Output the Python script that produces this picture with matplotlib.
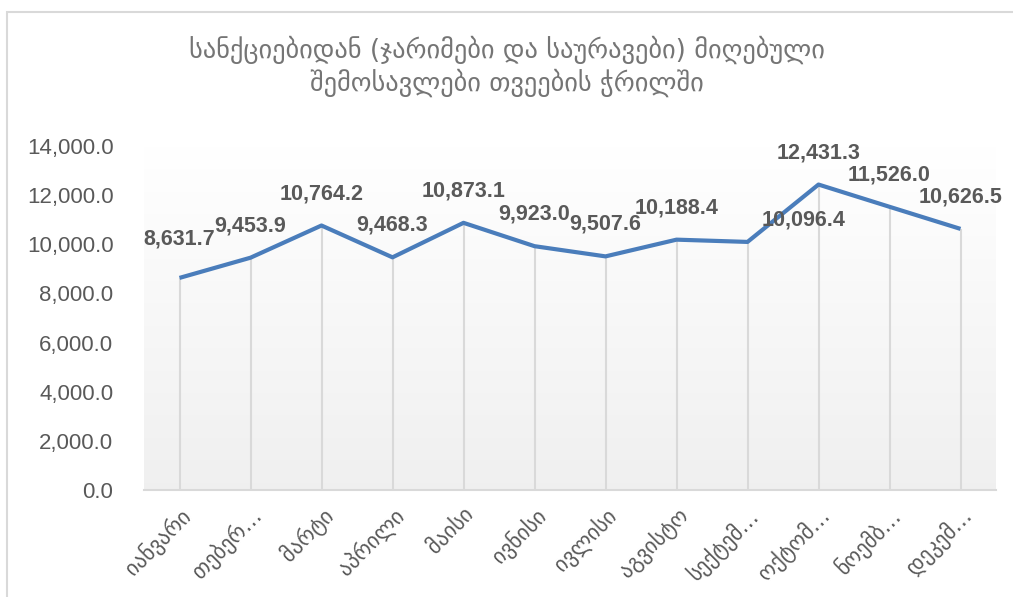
import numpy as np
import matplotlib
matplotlib.use('Agg')
import matplotlib.pyplot as plt
from matplotlib.ticker import FuncFormatter
from matplotlib.patches import Rectangle

# monthly income from sanctions (fines and penalties)
months = ['იანვარი', 'თებერ…', 'მარტი', 'აპრილი', 'მაისი', 'ივნისი',
          'ივლისი', 'აგვისტო', 'სექტემ…', 'ოქტომ…', 'ნოემბ…', 'დეკემ…']
income = [8631.7, 9453.9, 10764.2, 9468.3, 10873.1, 9923.0,
          9507.6, 10188.4, 10096.4, 12431.3, 11526.0, 10626.5]
yticks = [0, 2000, 4000, 6000, 8000, 10000, 12000, 14000]
title = 'სანქციებიდან (ჯარიმები და საურავები) მიღებული\nშემოსავლები თვეების ჭრილში'

W, H = 1013, 597
PX = 0.72  # points per pixel at dpi 100

# label nudges in pixels (dx, dy above point), excel-like placement
nudge = {0: (0, 39), 8: (56, 22)}
default_nudge = (0, 32)

fig = plt.figure(figsize=(W / 100, H / 100), dpi=100)
fig.patch.set_facecolor('white')

# chart border (top and left visible)
fig.patches.append(Rectangle((7 / W, -0.1), 1.2, (H - 12) / H + 0.1, transform=fig.transFigure,
                             fill=False, edgecolor='#d9d9d9', linewidth=1.5))

# axes box: x 144..996, y 146..490
ax = fig.add_axes([144 / W, 1 - 490 / H, (996 - 144) / W, (490 - 146) / H])
ax.set_xlim(-0.5, len(months) - 0.5)
ax.set_ylim(0, 14000)

# light gradient in plot area
grad = np.linspace(1.0, 0.94, 256).reshape(-1, 1)
ax.imshow(np.dstack([grad, grad, grad]), extent=[-0.5, len(months) - 0.5, 0, 14000],
          aspect='auto', zorder=0, origin='upper')

x = np.arange(len(months))
ax.vlines(x, 0, income, color='#d9d9d9', linewidth=1.5, zorder=1)
ax.plot(x, income, color='#4a7dbb', linewidth=3.0, zorder=3, solid_capstyle='butt')

for i, (xi, v) in enumerate(zip(x, income)):
    dx, dy = nudge.get(i, default_nudge)
    ax.annotate('{:,.1f}'.format(v), (xi, v), xytext=(dx * PX, dy * PX), textcoords='offset points',
                ha='center', va='center', fontsize=15.5, fontweight='bold',
                color='#595959', family='Liberation Sans', zorder=4)

for s in ['top', 'right', 'left']:
    ax.spines[s].set_visible(False)
ax.spines['bottom'].set_color('#d9d9d9')
ax.spines['bottom'].set_linewidth(1.5)

ax.set_yticks(yticks)
ax.yaxis.set_major_formatter(FuncFormatter(lambda v, p: '{:,.1f}'.format(v)))
ax.tick_params(axis='y', length=0, pad=22, labelsize=16, labelcolor='#595959')
for lbl in ax.get_yticklabels():
    lbl.set_family('Liberation Sans')

ax.set_xticks(x)
ax.set_xticklabels(months, rotation=45, ha='right', rotation_mode='anchor',
                   fontsize=15.5, color='#595959', family='DejaVu Sans')
ax.tick_params(axis='x', length=0, pad=10)

fig.text(0.5, 1 - 66 / H, title, ha='center', va='center', fontsize=19,
         color='#757575', family='DejaVu Sans', linespacing=1.2)

fig.savefig('out.png', dpi=100, facecolor='white')
